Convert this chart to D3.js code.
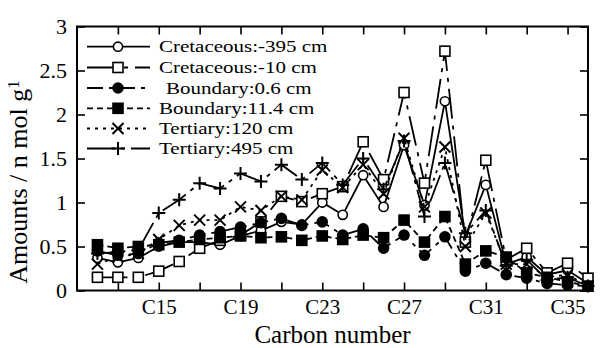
<!DOCTYPE html>
<html>
<head>
<meta charset="utf-8">
<script src="https://cdn.jsdelivr.net/npm/d3@7"></script>
<style>
  html, body { margin: 0; padding: 0; background: #fff; }
  svg { display: block; }
</style>
</head>
<body>
<svg id="chart" width="606" height="348"></svg>
<script>
// Carbon numbers (n-alkane chain length)
const carbons = [12, 13, 14, 15, 16, 17, 18, 19, 20, 21, 22, 23, 24, 25, 26, 27, 28, 29, 30, 31, 32, 33, 34, 35, 36];

// Amounts (n mol g-1) per sample
const cretaceous395 = [0.37, 0.32, 0.37, 0.50, 0.55, 0.55, 0.52, 0.62, 0.68, 0.78, 0.75, 1.00, 0.86, 1.31, 0.95, 1.65, 0.97, 2.15, 0.62, 1.20, 0.30, 0.38, 0.18, 0.23, 0.08];
const cretaceous10  = [0.15, 0.15, 0.15, 0.22, 0.33, 0.48, 0.57, 0.63, 0.78, 1.07, 1.01, 1.10, 1.18, 1.69, 1.26, 2.25, 1.22, 2.72, 0.55, 1.48, 0.35, 0.48, 0.20, 0.31, 0.14];
const boundary06    = [0.45, 0.40, 0.42, 0.54, 0.57, 0.63, 0.67, 0.72, 0.77, 0.82, 0.74, 0.78, 0.63, 0.70, 0.48, 0.63, 0.40, 0.61, 0.22, 0.31, 0.18, 0.14, 0.08, 0.06, 0.05];
const boundary114   = [0.52, 0.48, 0.50, 0.52, 0.55, 0.58, 0.60, 0.62, 0.60, 0.61, 0.57, 0.62, 0.58, 0.63, 0.60, 0.80, 0.55, 0.84, 0.30, 0.45, 0.38, 0.20, 0.15, 0.10, 0.05];
const tertiary120   = [0.30, 0.38, 0.42, 0.58, 0.74, 0.80, 0.80, 0.95, 0.91, 1.07, 1.03, 1.37, 1.17, 1.43, 1.10, 1.73, 0.95, 1.63, 0.50, 0.88, 0.30, 0.30, 0.15, 0.18, 0.05];
const tertiary495   = [0.42, 0.44, 0.46, 0.88, 1.03, 1.22, 1.16, 1.33, 1.24, 1.43, 1.26, 1.45, 1.20, 1.50, 1.15, 1.70, 0.84, 1.45, 0.65, 0.91, 0.28, 0.35, 0.12, 0.15, 0.05];

const seriesNames = ["Cretaceous:-395 cm", "Cretaceous:-10 cm", "Boundary:0.6 cm", "Boundary:11.4 cm", "Tertiary:120 cm", "Tertiary:495 cm"];

// Axis ticks
const xTickValues = [13, 15, 17, 19, 21, 23, 25, 27, 29, 31, 33, 35];
const xTickLabels = ["", "C15", "", "C19", "", "C23", "", "C27", "", "C31", "", "C35"];
const yTickValues = [0, 0.5, 1, 1.5, 2, 2.5, 3];
const yTickLabels = ["0", "0.5", "1", "1.5", "2", "2.5", "3"];

const xTitle = "Carbon number";
const yTitle = "Amounts / n mol g";
const yTitleSup = "1";

const serif = "'Liberation Serif', 'Times New Roman', Times, 'DejaVu Serif', serif";

// Per-series drawing styles
const styles = [
  { marker: "circle",  filled: false, dash: null },
  { marker: "square",  filled: false, dash: "30,7,4,7" },
  { marker: "circle",  filled: true,  dash: "16,6,4,6" },
  { marker: "square",  filled: true,  dash: "6,4" },
  { marker: "cross",   filled: false, dash: "3,5" },
  { marker: "plus",    filled: false, dash: "28,6,4,6" }
];

const seriesValues = [cretaceous395, cretaceous10, boundary06, boundary114, tertiary120, tertiary495];

const svg = d3.select("#chart");
const plotL = 77, plotR = 588, plotT = 26.5, plotB = 290.5;

const x = d3.scaleLinear().domain([11, 36]).range([plotL, plotR]);
const y = d3.scaleLinear().domain([0, 3]).range([plotB, plotT]);

// Axes: ticks point inward on all four sides
const gx = svg.append("g").attr("transform", `translate(0,${plotB})`)
  .call(d3.axisBottom(x).tickValues(xTickValues).tickSize(-8).tickPadding(9)
    .tickFormat((d, i) => xTickLabels[i]));
const gxTop = svg.append("g").attr("transform", `translate(0,${plotT})`)
  .call(d3.axisTop(x).tickValues(xTickValues).tickSize(-8).tickFormat(""));
const gy = svg.append("g").attr("transform", `translate(${plotL},0)`)
  .call(d3.axisLeft(y).tickValues(yTickValues).tickSize(-8).tickPadding(10)
    .tickFormat((d, i) => yTickLabels[i]));
const gyRight = svg.append("g").attr("transform", `translate(${plotR},0)`)
  .call(d3.axisRight(y).tickValues(yTickValues).tickSize(-8).tickFormat(""));

[gx, gxTop, gy, gyRight].forEach(g => {
  g.attr("font-family", null).attr("font-size", null);
  g.select(".domain").remove();
  g.selectAll(".tick line").attr("stroke", "#000").attr("stroke-width", 1.6);
  g.selectAll(".tick text").style("font-family", serif).style("font-size", "22px").attr("fill", "#000");
});
gx.selectAll(".tick text").style("font-size", "21px");

// Frame
svg.append("rect")
  .attr("x", plotL).attr("y", plotT)
  .attr("width", plotR - plotL).attr("height", plotB - plotT)
  .attr("fill", "none").attr("stroke", "#000").attr("stroke-width", 2);

// Axis titles
svg.append("text")
  .attr("x", (plotL + plotR) / 2).attr("y", 343)
  .attr("text-anchor", "middle")
  .style("font-family", serif).style("font-size", "25px")
  .text(xTitle);

const yt = svg.append("text")
  .attr("transform", "translate(27,182) rotate(-90)")
  .attr("text-anchor", "middle")
  .style("font-family", serif).style("font-size", "26px");
yt.append("tspan").text(yTitle);
yt.append("tspan").attr("dy", "-0.5em").style("font-size", "17px").text(yTitleSup);

// Marker drawing helper
function drawMarker(g, type, filled, cx, cy) {
  if (type === "circle") {
    g.append("circle").attr("cx", cx).attr("cy", cy).attr("r", filled ? 5 : 4.6)
      .attr("fill", filled ? "#000" : "#fff").attr("stroke", "#000").attr("stroke-width", 1.6);
  } else if (type === "square") {
    const s = 10;
    g.append("rect").attr("x", cx - s / 2).attr("y", cy - s / 2).attr("width", s).attr("height", s)
      .attr("fill", filled ? "#000" : "#fff").attr("stroke", "#000").attr("stroke-width", 1.6);
  } else if (type === "cross") {
    const s = 5.5;
    g.append("path").attr("d", `M${cx - s},${cy - s}L${cx + s},${cy + s}M${cx - s},${cy + s}L${cx + s},${cy - s}`)
      .attr("stroke", "#000").attr("stroke-width", 2).attr("fill", "none");
  } else if (type === "plus") {
    const s = 6.5;
    g.append("path").attr("d", `M${cx - s},${cy}L${cx + s},${cy}M${cx},${cy - s}L${cx},${cy + s}`)
      .attr("stroke", "#000").attr("stroke-width", 2).attr("fill", "none");
  }
}

const line = d3.line().x(d => x(d[0])).y(d => y(d[1]));

// Series lines and markers
seriesValues.forEach((vals, si) => {
  const st = styles[si];
  const pts = carbons.map((c, i) => [c, vals[i]]);
  const g = svg.append("g").attr("class", "series");
  g.append("path").datum(pts).attr("d", line)
    .attr("fill", "none").attr("stroke", "#000").attr("stroke-width", 1.8)
    .attr("stroke-dasharray", st.dash);
  pts.forEach(p => drawMarker(g, st.marker, st.filled, x(p[0]), y(p[1])));
});

// Legend: sample line with marker, then the label (tightly stacked rows)
const legendRows = [46.7, 67.5, 88, 108.3, 128.5, 148.5];
const lg = svg.append("g").attr("class", "legend");
seriesNames.forEach((name, i) => {
  const st = styles[i];
  const ly = legendRows[i];
  lg.append("line").attr("x1", 87).attr("x2", 150).attr("y1", ly).attr("y2", ly)
    .attr("stroke", "#000").attr("stroke-width", 1.8).attr("stroke-dasharray", st.dash);
  drawMarker(lg, st.marker, st.filled, 118, ly);
  lg.append("text")
    .attr("transform", `translate(${i === 2 ? 166 : 159},${ly + 5.5}) scale(1.2,1)`)
    .style("font-family", serif).style("font-size", "17.5px").text(name);
});
</script>
</body>
</html>
